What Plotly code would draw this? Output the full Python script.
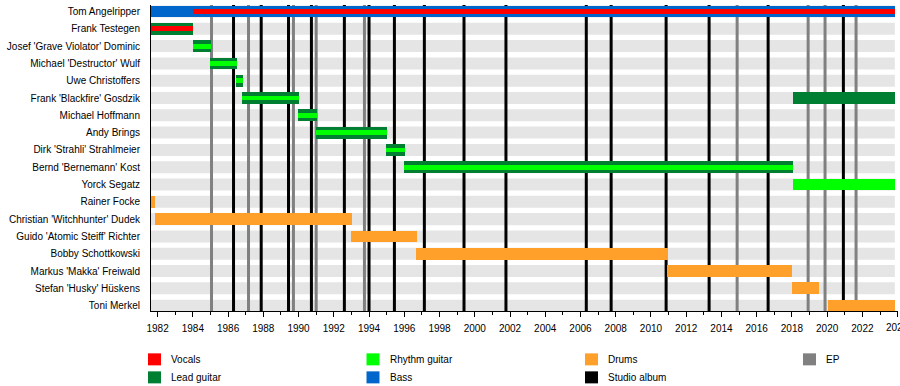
import plotly.graph_objects as go

# ---------------- data ----------------
START = 1981.626   # left edge of the timeline
END = 2023.84      # "now" edge of the timeline
AXIS_END = 2024.02
LAST_TICK = 2024   # its label runs past the page edge, so it is written as text

members = [
    "Tom Angelripper", "Frank Testegen", "Josef 'Grave Violator' Dominic",
    "Michael 'Destructor' Wulf", "Uwe Christoffers", "Frank 'Blackfire' Gosdzik",
    "Michael Hoffmann", "Andy Brings", "Dirk 'Strahli' Strahlmeier",
    "Bernd 'Bernemann' Kost", "Yorck Segatz", "Rainer Focke",
    "Christian 'Witchhunter' Dudek", "Guido 'Atomic Steiff' Richter",
    "Bobby Schottkowski", "Markus 'Makka' Freiwald", "Stefan 'Husky' Hüskens",
    "Toni Merkel",
]

bass = [("Tom Angelripper", START, END)]
lead_guitar = [
    ("Frank Testegen", START, 1984.0),
    ("Josef 'Grave Violator' Dominic", 1984.0, 1985.05),
    ("Michael 'Destructor' Wulf", 1985.0, 1986.52),
    ("Uwe Christoffers", 1986.46, 1986.86),
    ("Frank 'Blackfire' Gosdzik", 1986.8, 1990.04),
    ("Michael Hoffmann", 1989.98, 1991.05),
    ("Andy Brings", 1990.98, 1995.01),
    ("Dirk 'Strahli' Strahlmeier", 1994.97, 1996.05),
    ("Bernd 'Bernemann' Kost", 1996.0, 2018.07),
    ("Frank 'Blackfire' Gosdzik", 2018.07, END),
]
rhythm_guitar = [
    ("Josef 'Grave Violator' Dominic", 1984.0, 1985.05),
    ("Michael 'Destructor' Wulf", 1985.0, 1986.52),
    ("Uwe Christoffers", 1986.46, 1986.86),
    ("Frank 'Blackfire' Gosdzik", 1986.8, 1990.04),
    ("Michael Hoffmann", 1989.98, 1991.05),
    ("Andy Brings", 1990.98, 1995.01),
    ("Dirk 'Strahli' Strahlmeier", 1994.97, 1996.05),
    ("Bernd 'Bernemann' Kost", 1996.0, 2018.07),
    ("Yorck Segatz", 2018.07, END),
]
vocals = [
    ("Tom Angelripper", 1984.0, END),
    ("Frank Testegen", START, 1984.0),
]
drums = [
    ("Rainer Focke", START, 1981.87),
    ("Christian 'Witchhunter' Dudek", 1981.83, 1993.04),
    ("Guido 'Atomic Steiff' Richter", 1992.98, 1996.74),
    ("Bobby Schottkowski", 1996.67, 2010.94),
    ("Markus 'Makka' Freiwald", 2010.89, 2018.03),
    ("Stefan 'Husky' Hüskens", 2018.03, 2019.56),
    ("Toni Merkel", 2020.02, END),
]
studio_albums = [1986.31, 1987.88, 1989.43, 1990.73, 1992.60, 1994.0, 1995.44,
                 1997.14, 1999.39, 2001.77, 2006.33, 2007.74, 2010.86, 2013.30,
                 2016.65, 2020.92]
eps = [1985.06, 1987.16, 1989.71, 1991.0, 1993.74, 2014.89, 2018.92, 2019.88,
       2021.64]

legend_labels = ["Vocals", "Lead guitar", "Rhythm guitar", "Bass", "Drums",
                 "Studio album", "EP"]

# ---------------- style ----------------
C_VOC = "#FF0000"
C_LEAD = "#007F33"
C_RHY = "#00FF00"
C_BASS = "#0066CC"
C_DRUM = "#FFA02A"
C_ALBUM = "#000000"
C_EP = "#808080"
C_BAND = "#E5E5E5"
legend_colors = [C_VOC, C_LEAD, C_RHY, C_BASS, C_DRUM, C_ALBUM, C_EP]

FONT = "Liberation Sans, Arial, sans-serif"
W, H = 900, 386
ML, MR, MT = 151, 2, 5
PLOT_BOTTOM = 310.7
MB = H - PLOT_BOTTOM
FULL = 0.68
STRIPE = 0.28
Y_RANGE = [17.31, -0.376]

fig = go.Figure()

def add_bars(rows, color, width, name):
    fig.add_trace(go.Bar(
        y=[r[0] for r in rows],
        base=[r[1] for r in rows],
        x=[r[2] - r[1] for r in rows],
        orientation="h", width=width, name=name,
        marker=dict(color=color, line=dict(width=0)),
        showlegend=False, hoverinfo="skip",
    ))

lead_members = {r[0] for r in lead_guitar}
add_bars(bass, C_BASS, FULL, "Bass")
add_bars(lead_guitar, C_LEAD, FULL, "Lead guitar")
add_bars(drums, C_DRUM, FULL, "Drums")
add_bars([r for r in rhythm_guitar if r[0] not in lead_members], C_RHY, FULL, "Rhythm guitar")
add_bars([r for r in rhythm_guitar if r[0] in lead_members], C_RHY, STRIPE, "Rhythm guitar")
add_bars(vocals, C_VOC, STRIPE, "Vocals")

shapes = []
# grey background bands
for i, m in enumerate(members):
    shapes.append(dict(type="rect", xref="x", yref="y", x0=START, x1=END,
                       y0=i - 0.347, y1=i + 0.347, fillcolor=C_BAND,
                       line=dict(width=0), layer="below"))
# release lines (subplot layer: above the bands, below the bars)
for x in eps:
    shapes.append(dict(type="line", xref="x", yref="y", x0=x, x1=x,
                       y0=Y_RANGE[0], y1=Y_RANGE[1],
                       line=dict(color=C_EP, width=3), layer="below"))
for x in studio_albums:
    shapes.append(dict(type="line", xref="x", yref="y", x0=x, x1=x,
                       y0=Y_RANGE[0], y1=Y_RANGE[1],
                       line=dict(color=C_ALBUM, width=3), layer="below"))

# legend (drawn manually, 4 columns x 2 rows, column-major)
plot_w = W - ML - MR
plot_h = PLOT_BOTTOM - MT
def px_x(px):
    return (px - ML) / plot_w
def px_y(py):
    return (PLOT_BOTTOM - py) / plot_h

col_x = [148, 366.5, 585, 803]
row_y = [359, 377]
annotations = []
for k, (lab, col) in enumerate(zip(legend_labels, legend_colors)):
    c, r = divmod(k, 2)
    x0 = col_x[c]
    yc = row_y[r]
    shapes.append(dict(type="rect", xref="paper", yref="paper",
                       x0=px_x(x0), x1=px_x(x0 + 13), y0=px_y(yc - 6), y1=px_y(yc + 6),
                       fillcolor=col, line=dict(width=0)))
    annotations.append(dict(text=lab, xref="paper", yref="paper", x=px_x(x0 + 21),
                            y=px_y(yc), xanchor="left", yanchor="middle",
                            showarrow=False, font=dict(size=10, color="#000000", family=FONT)))

# last tick label (partly outside the page, like the reference)
annotations.append(dict(text=str(LAST_TICK), xref="x", yref="paper", x=LAST_TICK,
                        y=px_y(319.5), xanchor="center", yanchor="top", showarrow=False,
                        font=dict(size=10, color="#000000", family=FONT)))

fig.update_layout(
    width=W, height=H,
    margin=dict(l=ML, r=MR, t=MT, b=MB, pad=0),
    paper_bgcolor="white", plot_bgcolor="white",
    barmode="overlay", bargap=0,
    showlegend=False,
    shapes=shapes, annotations=annotations,
    font=dict(family=FONT, size=10, color="#000000"),
    xaxis=dict(range=[START, AXIS_END], showgrid=False, zeroline=False,
               tick0=1982, dtick=2, ticks="outside", ticklen=5, tickwidth=1,
               tickcolor="black", showline=True, linecolor="black", linewidth=1,
               minor=dict(dtick=1, tick0=1982, ticks="outside", ticklen=3,
                          tickcolor="black", showgrid=False),
               tickfont=dict(size=10, family=FONT), ticklabelstandoff=3,
               automargin=False),
    yaxis=dict(type="category", categoryorder="array", categoryarray=members,
               tickvals=members, range=Y_RANGE, showgrid=False, zeroline=False,
               showline=True, linecolor="black", linewidth=1, ticks="",
               tickfont=dict(size=10, family=FONT), ticklabelstandoff=8,
               automargin=False),
)

fig.write_html("out.html", config={"displayModeBar": False},
               post_script="document.body.style.margin='0';")
